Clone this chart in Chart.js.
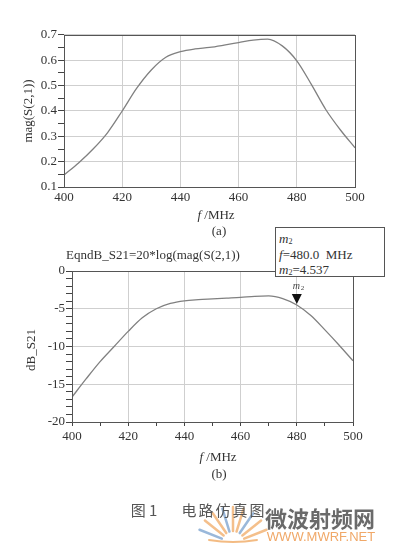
<!DOCTYPE html>
<html>
<head>
<meta charset="utf-8">
<script src="https://cdn.jsdelivr.net/npm/chart.js@4.4.0/dist/chart.umd.min.js"></script>
<style>
body{margin:0;background:#fff;width:399px;height:557px;position:relative;overflow:hidden;
	font-family:'Liberation Serif','DejaVu Serif',serif;color:#333}
canvas{position:absolute;left:0}
.t{position:absolute;white-space:nowrap;transform:translate(-50%,-50%);font-size:13px;line-height:1}
.rot{transform:translate(-50%,-50%) rotate(-90deg)}
#box{position:absolute;left:275px;top:227px;width:110px;height:50px;border:1px solid #555;background:#fff;
	font-size:13px;padding:3px 0 0 3px;box-sizing:border-box;z-index:2}
#box div{height:15.5px;line-height:15.5px;white-space:nowrap}
sub{font-size:8px;vertical-align:-1px;line-height:0}
.cjk{font-family:'Noto Sans CJK SC',sans-serif}
</style>
</head>
<body>
<canvas id="c1" width="399" height="210" style="top:0"></canvas>
<canvas id="c2" width="399" height="210" style="top:240px"></canvas>
<canvas id="logo" width="80" height="50" style="left:193px;top:497px"></canvas>

<div class="t rot" style="left:27px;top:111px">mag(S(2,1))</div>
<div class="t" style="left:216px;top:214px"><i>f</i> /MHz</div>
<div class="t" style="left:219px;top:230px">(a)</div>

<div class="t" style="left:153px;top:254px">EqndB_S21=20*log(mag(S(2,1))</div>
<div id="box">
	<div><i>m</i><sub>2</sub></div>
	<div><i>f</i>=480.0&nbsp; MHz</div>
	<div><i>m</i><sub>2</sub>=4.537</div>
</div>

<div class="t rot" style="left:30px;top:350px">dB_S21</div>
<div class="t" style="left:218px;top:456px"><i>f</i> /MHz</div>
<div class="t" style="left:219px;top:473px">(b)</div>

<div class="t cjk" style="left:144px;top:509px;font-size:15px;color:#555">图 1</div>
<div class="t cjk" style="left:224px;top:509px;font-size:15px;color:#555;letter-spacing:2px">电路仿真图</div>
<div class="t cjk" style="left:320px;top:517px;font-size:22px;font-weight:bold;color:#6a6a6a;z-index:3">微波射频网</div>
<div class="t" style="left:321px;top:536px;font-family:'Liberation Sans',sans-serif;font-size:13px;color:#f0a868;z-index:3">WWW.MWRF.NET</div>

<script>
// frequency points (MHz)
var freq = [400, 405, 410, 415, 420, 425, 430, 435, 440, 445, 450,
	455, 460, 465, 470, 475, 480, 485, 490, 495, 500];

// (a) magnitude of S21
var magS21 = [0.147, 0.195, 0.250, 0.315, 0.400, 0.490, 0.562, 0.612, 0.634, 0.645, 0.651,
	0.660, 0.670, 0.680, 0.684, 0.657, 0.598, 0.505, 0.405, 0.325, 0.255];

// (b) dB of S21
var dbS21 = [-16.7, -14.3, -12.0, -10.0, -8.0, -6.2, -5.0, -4.3, -3.95, -3.8, -3.7,
	-3.6, -3.5, -3.35, -3.3, -3.65, -4.5, -5.9, -7.8, -9.8, -11.9];

var xTicks = [400, 420, 440, 460, 480, 500];
var magTicks = [0.1, 0.2, 0.3, 0.4, 0.5, 0.6, 0.7];
var dbTicks = [-20, -15, -10, -5, 0];
var markerFreq = 480;

var serif = "'Liberation Serif', 'DejaVu Serif', serif";

function near(v, list) {
	for (var i = 0; i < list.length; i++) {
		if (Math.abs(v - list[i]) < 1e-6) return true;
	}
	return false;
}

var framePlugin = {
	id: 'frame',
	afterDraw: function (chart) {
		var a = chart.chartArea, ctx = chart.ctx;
		ctx.save();
		ctx.strokeStyle = '#555';
		ctx.lineWidth = 1;
		ctx.strokeRect(Math.round(a.left) + 0.5, Math.round(a.top) + 0.5,
			Math.round(a.right - a.left), Math.round(a.bottom - a.top));
		ctx.restore();
	}
};

var markerPlugin = {
	id: 'marker',
	afterDraw: function (chart) {
		var opts = chart.options.plugins.marker;
		if (!opts || !opts.show) return;
		var ctx = chart.ctx;
		var px = chart.scales.x.getPixelForValue(markerFreq);
		var py = chart.scales.y.getPixelForValue(dbS21[freq.indexOf(markerFreq)]);
		ctx.save();
		ctx.fillStyle = '#111';
		ctx.beginPath();
		ctx.moveTo(px, py - 1);
		ctx.lineTo(px - 5, py - 11);
		ctx.lineTo(px + 5, py - 11);
		ctx.closePath();
		ctx.fill();
		ctx.fillStyle = '#444';
		ctx.font = 'italic 10px ' + serif;
		ctx.textBaseline = 'middle';
		ctx.fillText('m', px - 4, py - 19);
		ctx.font = '7px ' + serif;
		ctx.fillText('2', px + 4, py - 17);
		ctx.restore();
	}
};

function makeChart(id, values, cfg) {
	return new Chart(document.getElementById(id), {
		type: 'line',
		data: {
			datasets: [{
				data: freq.map(function (f, i) { return {x: f, y: values[i]}; }),
				borderColor: '#808080',
				borderWidth: 1.3,
				pointRadius: 0,
				cubicInterpolationMode: 'monotone'
			}]
		},
		options: {
			responsive: false,
			animation: false,
			devicePixelRatio: 1,
			layout: {padding: {left: 0, right: cfg.padRight, top: cfg.padTop, bottom: 0}},
			plugins: {
				legend: {display: false},
				tooltip: {enabled: false},
				marker: {show: cfg.marker}
			},
			scales: {
				x: {
					type: 'linear',
					min: 400,
					max: 500,
					afterFit: function (s) { s.height = cfg.xHeight; },
					afterBuildTicks: function (s) {
						var t = [];
						for (var v = 400; v <= 500; v += cfg.xStep) t.push({value: v});
						s.ticks = t;
					},
					border: {display: false},
					grid: {
						drawTicks: cfg.xTickLen > 0,
						tickLength: cfg.xTickLen,
						tickColor: '#444',
						color: function (c) {
							return near(c.tick.value, xTicks) ? '#cfcfcf' : 'rgba(0,0,0,0)';
						}
					},
					ticks: {
						padding: cfg.xPad,
						maxRotation: 0,
						autoSkip: false,
						color: '#333',
						font: {family: serif, size: 13},
						callback: function (v) { return near(v, xTicks) ? String(v) : ''; }
					}
				},
				y: {
					min: cfg.yMin,
					max: cfg.yMax,
					afterFit: function (s) { s.width = cfg.yWidth; },
					afterBuildTicks: function (s) {
						var t = [];
						var n = Math.round((cfg.yMax - cfg.yMin) / cfg.yStep);
						for (var i = 0; i <= n; i++) t.push({value: cfg.yMin + i * cfg.yStep});
						s.ticks = t;
					},
					border: {display: false},
					grid: {
						tickLength: 6,
						tickColor: '#444',
						color: function (c) {
							return near(c.tick.value, cfg.yLabels) ? '#cfcfcf' : 'rgba(0,0,0,0)';
						}
					},
					ticks: {
						padding: 1,
						autoSkip: false,
						color: '#333',
						font: {family: serif, size: 13},
						callback: function (v) {
							if (!near(v, cfg.yLabels)) return '';
							return cfg.fmt(v);
						}
					}
				}
			}
		},
		plugins: [framePlugin, markerPlugin]
	});
}

makeChart('c1', magS21, {
	padTop: 35, padRight: 44, xHeight: 23, yWidth: 64,
	yMin: 0.1, yMax: 0.7, yStep: 0.05, yLabels: magTicks,
	xStep: 20, xTickLen: 0, xPad: 3,
	fmt: function (v) { return v.toFixed(1); },
	marker: false
});

makeChart('c2', dbS21, {
	padTop: 31, padRight: 46, xHeight: 28, yWidth: 72,
	yMin: -20, yMax: 0, yStep: 1, yLabels: dbTicks,
	xStep: 10, xTickLen: 4, xPad: 3,
	fmt: function (v) { return String(Math.round(v)); },
	marker: true
});

// watermark fan logo
(function () {
	var ctx = document.getElementById('logo').getContext('2d');
	var cx = 40, cy = 46;
	ctx.lineCap = 'round';
	for (var i = 0; i < 9; i++) {
		var a = Math.PI * (0.12 + i * 0.095);
		ctx.strokeStyle = (i % 3 === 0) ? 'rgba(120,160,205,0.75)' : 'rgba(240,170,100,0.75)';
		ctx.lineWidth = 2.5;
		ctx.beginPath();
		ctx.moveTo(cx - Math.cos(a) * 12, cy - Math.sin(a) * 12);
		ctx.lineTo(cx - Math.cos(a) * 36, cy - Math.sin(a) * 36);
		ctx.stroke();
	}
	ctx.strokeStyle = 'rgba(240,170,100,0.8)';
	ctx.lineWidth = 2;
	ctx.beginPath();
	ctx.moveTo(cx - 24, cy - 3);
	ctx.quadraticCurveTo(cx, cy + 1, cx + 24, cy - 3);
	ctx.stroke();
})();
</script>
</body>
</html>
